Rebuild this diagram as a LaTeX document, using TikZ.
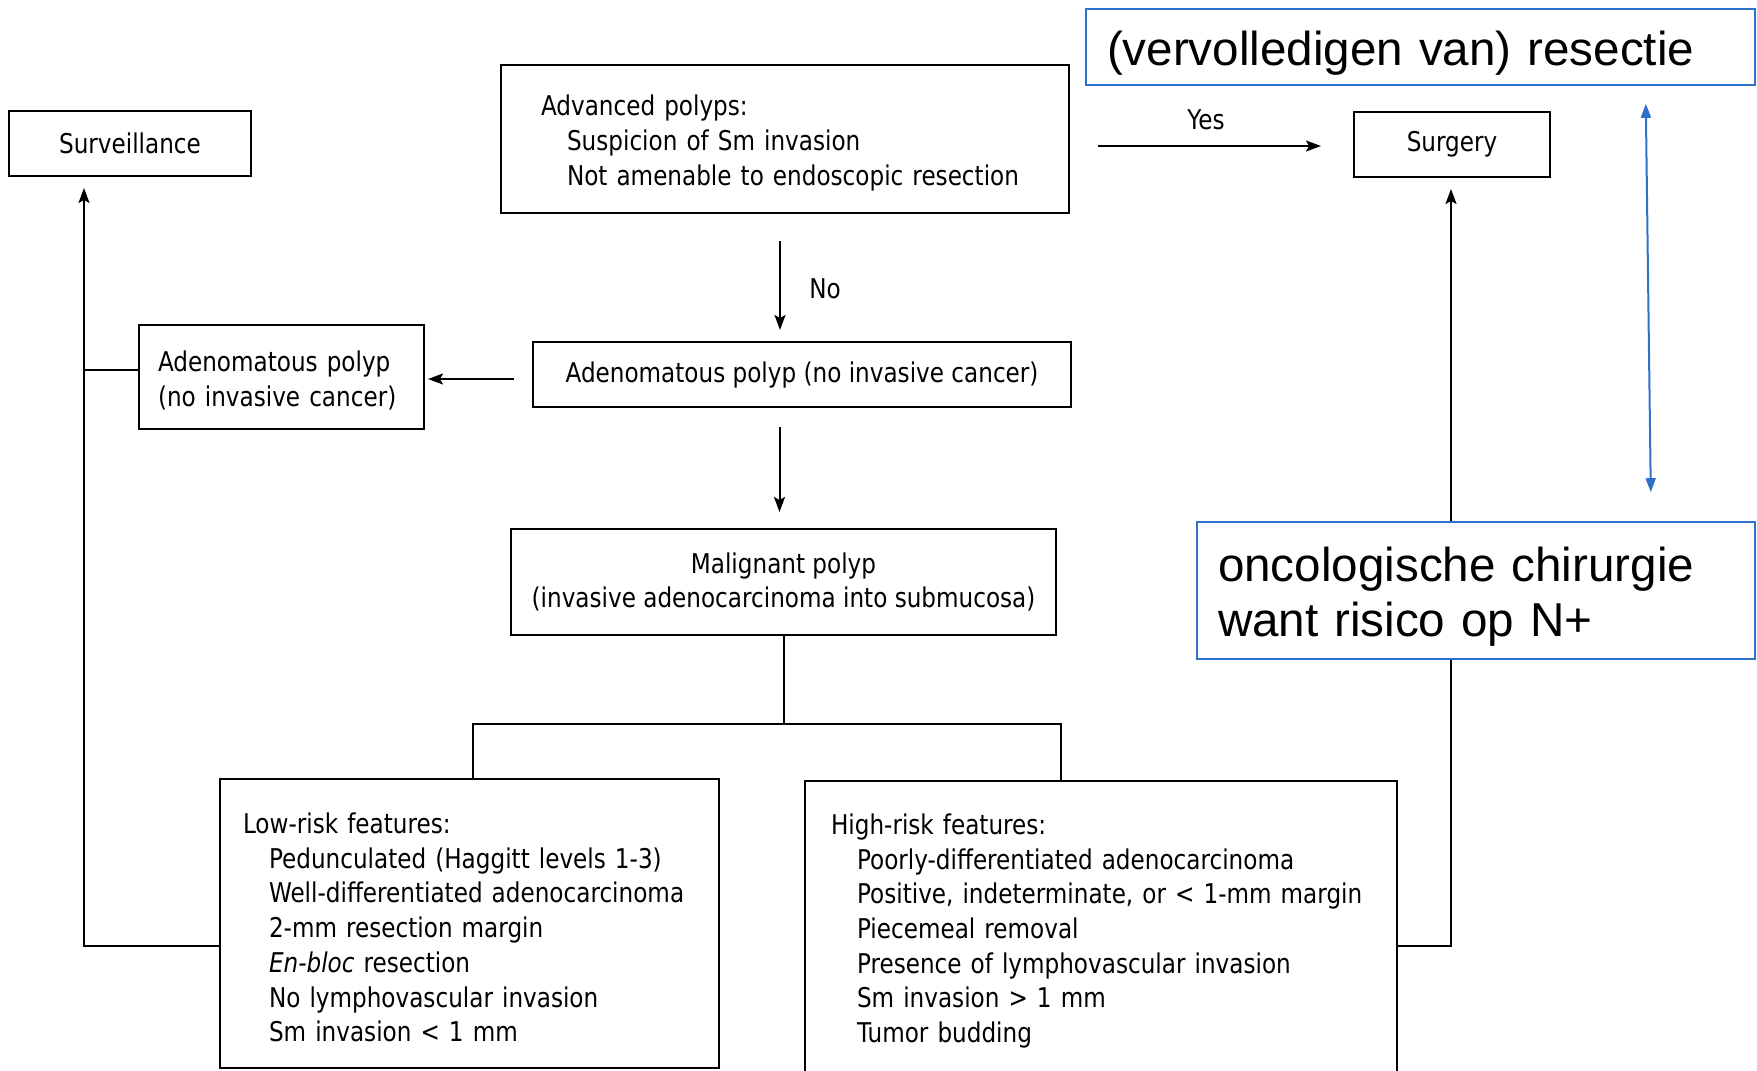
\documentclass[tikz,border=0pt]{standalone}
\usepackage{fontspec}
\setmainfont[FakeStretch=0.85]{DejaVu Sans}
\newfontfamily\slidefont{Liberation Sans}
\usetikzlibrary{arrows.meta,calc}
\definecolor{slideblue}{RGB}{47,112,200}
% indented list line inside a box, never broken
\newcommand{\itm}[1]{\hspace*{13pt}\mbox{#1}}
% invisible strut that lowers a text block a little inside its box
\newcommand{\lowtop}[1]{\rule{0pt}{#1}}

\begin{document}
\begin{tikzpicture}[x=0.5pt,y=-0.5pt,
  box/.style={draw, line width=1pt, fill=white, inner sep=0pt,
    font=\fontsize{13.6pt}{17.35pt}\selectfont},
  note/.style={draw=slideblue, line width=0.8pt, fill=white, inner sep=0pt,
    align=left, font=\slidefont\fontsize{23.8pt}{27.5pt}\selectfont},
  arr/.style={line width=1pt, -{Stealth[length=7.5pt,width=5.5pt,inset=1.5pt]}},
  link/.style={line width=1pt},
  barr/.style={draw=slideblue, line width=1pt,
    {Triangle[length=7pt,width=5pt]}-{Triangle[length=7pt,width=5pt]}},
  lbl/.style={font=\fontsize{13.6pt}{17.35pt}\selectfont, inner sep=0pt}]

\useasboundingbox (0,0) rectangle (1757,1071);
\clip (0,0) rectangle (1757,1071);

% flowchart boxes
\node[box, minimum width=121pt, minimum height=32.5pt] (surv) at (130,143.5) {Surveillance};
\node[box, minimum width=284pt, minimum height=74pt, text width=244pt, align=left] (adv) at (785,139)
  {\lowtop{14.3pt}Advanced polyps:\\ \itm{Suspicion of Sm invasion}\\ \itm{Not amenable to endoscopic resection}};
\node[box, minimum width=98pt, minimum height=32.5pt] (surg) at (1452,144.5) {Surgery};
\node[box, minimum width=269pt, minimum height=32.5pt] (adp) at (802,374.5) {Adenomatous polyp (no invasive cancer)};
\node[box, minimum width=142.5pt, minimum height=52pt, text width=123.5pt, align=left] (adl) at (281.5,377)
  {\lowtop{13.8pt}Adenomatous polyp\\(no invasive cancer)};
\node[box, minimum width=272.5pt, minimum height=53pt, align=center] (mal) at (783.5,582)
  {Malignant polyp\\(invasive adenocarcinoma into submucosa)};
\node[box, minimum width=249.5pt, minimum height=144.5pt, text width=226.5pt, align=left] (low) at (469.5,923.5)
  {\lowtop{14.3pt}Low-risk features:\\
   \itm{Pedunculated (Haggitt levels 1-3)}\\
   \itm{Well-differentiated adenocarcinoma}\\
   \itm{2-mm resection margin}\\
   \itm{\textit{En-bloc} resection}\\
   \itm{No lymphovascular invasion}\\
   \itm{Sm invasion < 1 mm}};
\node[box, minimum width=296pt, minimum height=147pt, text width=270pt, align=left] (high) at (1101,928)
  {\lowtop{13.3pt}High-risk features:\\
   \itm{Poorly-differentiated adenocarcinoma}\\
   \itm{Positive, indeterminate, or < 1-mm margin}\\
   \itm{Piecemeal removal}\\
   \itm{Presence of lymphovascular invasion}\\
   \itm{Sm invasion > 1 mm}\\
   \itm{Tumor budding}};

% connectors
\draw[arr] ($(adv.east |- surg.west)+(28,1.5)$) -- ($(surg.west)+(-32,1.5)$);
\node[lbl] (yes) at (1206,120) {Yes};
\draw[arr] ($(adv.south)+(-5,27)$) -- ($(adv.south |- adp.north)+(-5,-11)$);
\node[lbl] (no) at (825,289) {No};
\draw[arr] ($(adp.west)+(-18,4.5)$) -- ($(adp.west -| adl.east)+(3,4.5)$);
\draw[arr] ($(adp.south -| mal.north)+(-4,19)$) -- ($(mal.north)+(-4,-16)$);

\draw[link] (mal.south) -- ++(0,88);
\draw[link] ($(low.north west)+(254,0)$) |- ($(mal.south)+(0,88)$) -| ($(high.north west)+(257,0)$);

\draw[link] ($(adl.west)+(0,-7)$) -- ($(adl.west)+(-54,-7)$);
\draw[arr] ($(low.north west)+(0,168)$) -| ($(surv.south west)+(76,11)$);
\draw[arr] ($(high.north east)+(0,166)$) -| ($(surg.south west)+(98,11)$);

% annotations
\node[note, minimum width=334.5pt, minimum height=38pt, text width=313.5pt] (res) at (1420.5,47)
  {\lowtop{23.5pt}(vervolledigen van) resectie};
\node[note, minimum width=279pt, minimum height=68.5pt, text width=258pt] (onc) at (1476,590.5)
  {\lowtop{23.2pt}oncologische chirurgie\\want risico op N+};
\draw[barr] ($(res.south east)+(-110,18)$) -- ($(onc.north east)+(-105,-29)$);
\end{tikzpicture}
\end{document}
